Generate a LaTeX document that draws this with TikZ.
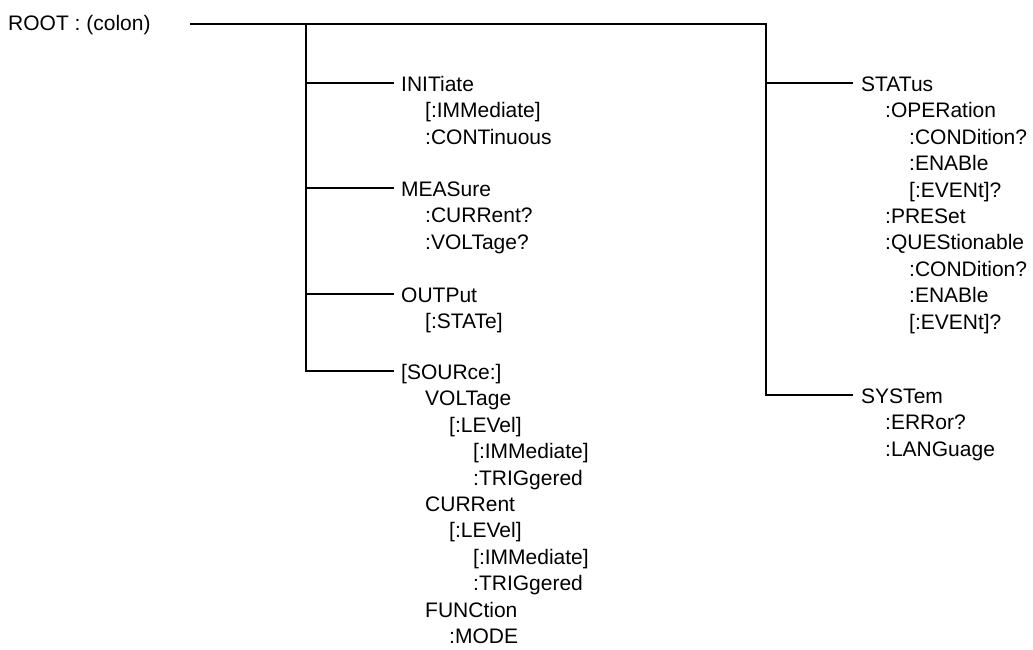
\documentclass[tikz,border=0pt]{standalone}
\usepackage{fontspec}
\setmainfont{Liberation Sans}
\begin{document}
\begin{tikzpicture}[x=1pt,y=-1pt,
  tx/.style={inner sep=0pt,anchor=base west,font=\fontsize{21}{26}\selectfont},
  tree/.style={line width=2.8pt}]
\useasboundingbox (0,0) rectangle (1033,649);
% root
\node[tx] (root) at (8,30) {ROOT : (colon)};
% junction coordinates
\coordinate (rs) at (190,24);
\coordinate (lt) at (306,24);
\coordinate (rt) at (766,24);
\coordinate (jI) at (306,83);
\coordinate (jM) at (306,188);
\coordinate (jO) at (306,294);
\coordinate (jS) at (306,371);
\coordinate (jST) at (766,83);
\coordinate (jSY) at (766,395);
\coordinate (eI) at (394,83);
\coordinate (eM) at (394,188);
\coordinate (eO) at (394,294);
\coordinate (eS) at (394,371);
\coordinate (eST) at (853,83);
\coordinate (eSY) at (853,395);
% connectors
\draw[tree] (rs) -- (rt) -- (jSY) -- (eSY);
\draw[tree] (lt) -- (jS) -- (eS);
\draw[tree] (jI) -- (eI);
\draw[tree] (jM) -- (eM);
\draw[tree] (jO) -- (eO);
\draw[tree] (jST) -- (eST);
% INITiate
\node[tx] (i0) at (401,91.5) {INITiate};
\node[tx] (i1) at (425,117.9) {[:IMMediate]};
\node[tx] (i2) at (425,144.3) {:CONTinuous};
% MEASure
\node[tx] (m0) at (401,196.5) {MEASure};
\node[tx] (m1) at (425,222.9) {:CURRent?};
\node[tx] (m2) at (425,249.3) {:VOLTage?};
% OUTPut
\node[tx] (o0) at (401,302.5) {OUTPut};
\node[tx] (o1) at (425,328.9) {[:STATe]};
% SOURce
\node[tx] (s0) at (401,379.5) {[SOURce:]};
\node[tx] (s1) at (425,405.9) {VOLTage};
\node[tx] (s2) at (449,432.3) {[:LEVel]};
\node[tx] (s3) at (473,458.7) {[:IMMediate]};
\node[tx] (s4) at (473,485.1) {:TRIGgered};
\node[tx] (s5) at (425,511.5) {CURRent};
\node[tx] (s6) at (449,537.9) {[:LEVel]};
\node[tx] (s7) at (473,564.3) {[:IMMediate]};
\node[tx] (s8) at (473,590.7) {:TRIGgered};
\node[tx] (s9) at (425,617.1) {FUNCtion};
\node[tx] (s10) at (449,643.5) {:MODE};
% STATus
\node[tx] (t0) at (861,91.5) {STATus};
\node[tx] (t1) at (885,117.9) {:OPERation};
\node[tx] (t2) at (909,144.3) {:CONDition?};
\node[tx] (t3) at (909,170.7) {:ENABle};
\node[tx] (t4) at (909,197.1) {[:EVENt]?};
\node[tx] (t5) at (885,223.5) {:PRESet};
\node[tx] (t6) at (885,249.9) {:QUEStionable};
\node[tx] (t7) at (909,276.3) {:CONDition?};
\node[tx] (t8) at (909,302.7) {:ENABle};
\node[tx] (t9) at (909,329.1) {[:EVENt]?};
% SYSTem
\node[tx] (y0) at (861,403.5) {SYSTem};
\node[tx] (y1) at (885,429.9) {:ERRor?};
\node[tx] (y2) at (885,456.3) {:LANGuage};
\end{tikzpicture}
\end{document}
